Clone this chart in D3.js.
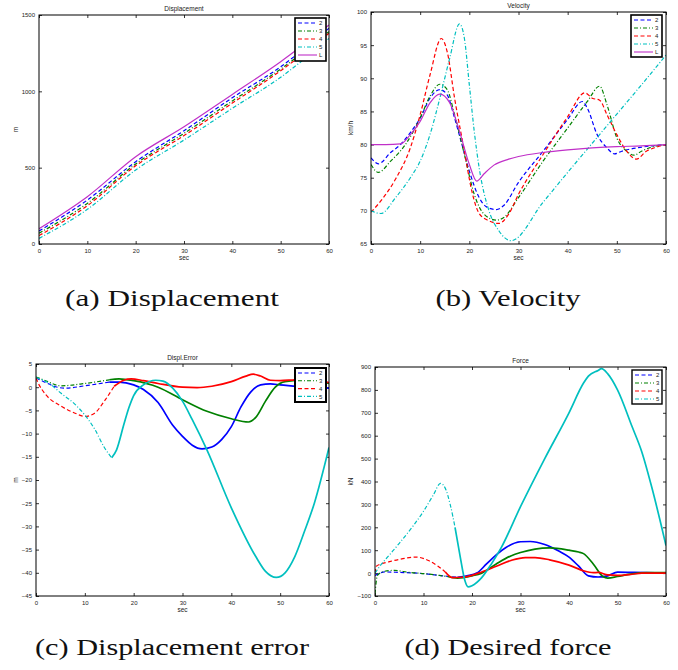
<!DOCTYPE html>
<html lang="en">
  <head>
    <meta charset="UTF-8" />
    <title>Platoon simulation</title>
    <script src="https://cdn.jsdelivr.net/npm/d3@7.6.1/dist/d3.min.js"></script>
    <style>
      body { margin: 0; background: #fff; }
      svg { display: block; }
      .tick text { font-family: 'Liberation Sans', Arial, sans-serif; font-size: 6px; fill: #222; }
      .lbl { font-family: 'Liberation Sans', Arial, sans-serif; font-size: 6.5px; fill: #222; }
      .cap { font-family: 'Liberation Serif', serif; font-size: 23px; fill: #111; }
    </style>
  </head>
  <body>
    <div id="box"></div>
    <script>
      const width = 678;
      const height = 670;

      // legend names
      const names = ['2', '3', '4', '5', 'L'];
      const colors = ['#0000ff', '#008000', '#ff0000', '#00bfbf', '#c030c8'];
      const dashes = ['4,2.5', '4,2,1,2', '4,2.5', '4,2,1,2', null];

      // (a) displacement, m
      const dispT = [0, 10, 20, 30, 40, 50, 60];
      const disp2 = [85, 288, 539, 742, 958, 1161, 1413];
      const disp3 = [70, 266, 524, 725, 937, 1146, 1391];
      const disp4 = [55, 251, 513, 710, 923, 1135, 1380];
      const disp5 = [37, 227, 485, 681, 889, 1092, 1347];
      const dispL = [100, 310, 572, 768, 980, 1194, 1434];

      // (b) velocity, km/h  [sec, value]
      const vel2 = [[0,78],[1.5,77.1],[4,78.8],[6,80],[8,81.8],[10,84],[12,87],[14,88.3],[15.5,87.5],[17,84],[18.5,80],[20,76],[22,72],[23.5,70.6],[25.5,70.2],[27,70.8],[30,74.3],[35,79],[40,83.8],[43,86.5],[44,85.5],[46,81.5],[48,79.5],[49.5,78.6],[51,79],[55,79.6],[60,80]];
      const vel3 = [[0,77],[1.5,75.8],[4,77.5],[7,80],[10,84],[12,87.3],[14,89.1],[15.5,88.3],[17,84.5],[19,78.5],[21,72.5],[23,69.5],[25.5,68.6],[27,69],[30,72],[35,77.5],[40,82.5],[44,86.5],[46.5,88.8],[48,86],[50,81],[52,79],[53.5,78.4],[55,79],[57,79.6],[60,80]];
      const vel4 = [[0,69.8],[2,71.5],[5,74.8],[8,79.5],[10,84.5],[12,90.5],[14.3,96],[15.5,94],[17,87],[19,79],[20.5,73],[22,69.6],[24,68.5],[26,68.1],[28,69.5],[30,72.5],[35,78.5],[40,84.2],[43.5,87.8],[45,87],[46.5,86.7],[48,84.5],[50,81.5],[52,79],[54,77.8],[56,79],[58,79.6],[60,80]];
      const vel5 = [[0,70],[2,69.6],[5,72],[8,75],[10,77.5],[12,81.5],[14,87],[16,93],[18,98.2],[19,96],[20,89],[21,82],[22,76.5],[24,70],[26,67],[28.5,65.5],[35,71.3],[40,75.8],[45,80.2],[50,84.6],[55,89],[60,93.5]];
      const velL = [[0,80],[3,80],[6,80.1],[8,81.5],[10,83.5],[12,86.3],[14,87.6],[16,86.3],[18,82],[20,77],[21.5,74.5],[23,75.6],[25,76.9],[28,77.8],[30,78.2],[35,78.8],[40,79.2],[45,79.5],[50,79.7],[55,79.8],[60,80]];

      // (c) displacement error, m
      const err2 = [[0,2],[2,1],[4,0.1],[6,-0.2],[10,0.3],[15,1.1],[17,1.1],[20,0.5],[22,-0.5],[25,-3.3],[28,-8.2],[30,-10.6],[32,-12.5],[34,-13.3],[36,-12.9],[38,-11.3],[40,-8.5],[42,-4.2],[44,-1],[46,0.5],[48,0.7],[50,0.5],[55,0],[60,-0.2]];
      const err3 = [[0,2.2],[2,1.4],[5,0.3],[10,0.8],[15,1.6],[17,1.8],[20,1.4],[25,0],[30,-2.7],[35,-5.2],[40,-6.8],[43.5,-7.5],[45,-6.5],[47,-3],[49,0],[51,1.2],[55,1.5],[60,0.8]];
      const err4 = [[0,2],[0.5,0.8],[2,-1.6],[5,-4],[8,-5.6],[10,-6.3],[12,-5.6],[14,-3],[16,0.2],[18,1.5],[19.5,1.8],[22,1.4],[25,0.8],[30,0],[33,-0.1],[36,0.2],[40,1.2],[43,2.4],[44.5,2.8],[46,2.4],[48,1.5],[50,1.4],[53,1.6],[56,1.7],[60,1]];
      const err5 = [[0,2.1],[3,0.6],[5,-1.2],[8,-3.7],[10,-6],[12,-9],[14,-13],[15.5,-15.2],[16.5,-13.5],[18,-8],[19,-4.5],[20,-1.8],[22,0.5],[24.5,1.5],[26,1.3],[28,-0.2],[30,-3],[32,-7],[35,-13.5],[40,-26],[45,-36.5],[47,-39.7],[49.2,-41],[51,-40],[53,-36.5],[55,-31],[57,-25],[60,-13]];

      // (d) desired force, kN
      const force2 = [[0,-10],[1,0],[2,5],[5,3],[10,-2],[14,-12],[17,-18],[19,-12],[21,0],[23,40],[25,80],[27,112],[30,137],[32,138],[35,125],[38,95],[40,70],[42,30],[44,-12],[46,-17],[48,-12],[50,4],[53,3],[60,0]];
      const force3 = [[0,-90],[0.5,-10],[2,8],[4,12],[7,3],[10,-2],[15,-15],[17,-22],[20,-12],[22,0],[25,40],[28,75],[30,90],[33,105],[36,110],[40,100],[42,92],[43,85],[45,40],[47,-15],[48,-22],[50,-15],[53,-3],[56,2],[60,2]];
      const force4 = [[0,0],[0.3,30],[1,38],[3,50],[5,60],[8.5,70],[11,55],[13,30],[14.5,5],[16,-20],[18,-18],[20,-10],[22,5],[25,30],[28,55],[31,68],[33,68],[36,58],[40,35],[43,10],[45,2],[46,3],[48,-8],[50,-10],[53,-5],[55,0],[60,0]];
      const force5 = [[0,0],[1,30],[3,80],[5,130],[8,210],[10,270],[12,340],[13.5,392],[14.5,370],[15.5,300],[16.5,200],[17.5,80],[18.5,-30],[19.2,-60],[20,-55],[22,-20],[24,40],[26,110],[30,290],[35,500],[40,700],[43,830],[44,860],[46,885],[46.7,893],[48,870],[50,800],[53,640],[55,530],[57,380],[59,210],[60,120]];

      // time after which the dense samples look solid
      const solidAfterC = [15, 16, 16, 16];
      const solidAfterD = [17, 16, 15, 17];

      const xTicks = d3.range(0, 61, 10);

      const svg = d3.select('#box').append('svg').attr('width', width).attr('height', height);

      function panel(o) {
        const x = d3.scaleLinear().domain([0, 60]).range([o.x0, o.x1]);
        const y = d3.scaleLinear().domain(o.yDomain).range([o.y1, o.y0]);
        const g = svg.append('g');
        const clipId = 'clip' + o.id;
        g.append('clipPath').attr('id', clipId).append('rect')
          .attr('x', o.x0).attr('y', o.y0).attr('width', o.x1 - o.x0).attr('height', o.y1 - o.y0);

        // inward ticks, all four sides
        g.append('g').attr('transform', `translate(0,${o.y1})`)
          .call(d3.axisBottom(x).tickValues(xTicks).tickSizeInner(-3).tickSizeOuter(0).tickPadding(5))
          .call(a => a.select('.domain').remove());
        g.append('g').attr('transform', `translate(0,${o.y0})`)
          .call(d3.axisTop(x).tickValues(xTicks).tickSizeInner(-3).tickSizeOuter(0).tickFormat(''))
          .call(a => a.select('.domain').remove());
        g.append('g').attr('transform', `translate(${o.x0},0)`)
          .call(d3.axisLeft(y).tickValues(o.yTicks).tickFormat(d3.format('d')).tickSizeInner(-3).tickSizeOuter(0).tickPadding(4))
          .call(a => a.select('.domain').remove());
        g.append('g').attr('transform', `translate(${o.x1},0)`)
          .call(d3.axisRight(y).tickValues(o.yTicks).tickSizeInner(-3).tickSizeOuter(0).tickFormat(''))
          .call(a => a.select('.domain').remove());
        g.selectAll('.tick line').attr('stroke', '#000').attr('stroke-width', 0.8);

        const line = d3.line().x(d => x(d[0])).y(d => y(d[1])).curve(d3.curveMonotoneX);
        const plot = g.append('g').attr('clip-path', `url(#${clipId})`);
        o.series.forEach((s, i) => {
          let first = s;
          let rest = [];
          if (o.solidAfter) {
            // last point at or before the split; both parts share it
            const k = d3.bisectRight(s.map(d => d[0]), o.solidAfter[i]) - 1;
            first = s.slice(0, k + 1);
            rest = s.slice(k);
          }
          plot.append('path').attr('d', line(first)).attr('fill', 'none')
            .attr('stroke', colors[i]).attr('stroke-width', 1.2)
            .attr('stroke-dasharray', dashes[i]);
          if (rest.length > 1) {
            plot.append('path').attr('d', line(rest)).attr('fill', 'none')
              .attr('stroke', colors[i]).attr('stroke-width', 1.7);
          }
        });

        g.append('rect').attr('x', o.x0).attr('y', o.y0)
          .attr('width', o.x1 - o.x0).attr('height', o.y1 - o.y0)
          .attr('fill', 'none').attr('stroke', '#000').attr('stroke-width', 1);

        g.append('text').attr('class', 'lbl').attr('x', (o.x0 + o.x1) / 2).attr('y', o.y0 - 4)
          .attr('text-anchor', 'middle').text(o.title);
        g.append('text').attr('class', 'lbl').attr('x', (o.x0 + o.x1) / 2).attr('y', o.y1 + 16)
          .attr('text-anchor', 'middle').text('sec');
        g.append('text').attr('class', 'lbl')
          .attr('transform', `translate(${o.yLabelX},${(o.y0 + o.y1) / 2}) rotate(-90)`)
          .attr('text-anchor', 'middle').text(o.yLabel);

        // legend
        const L = o.legend;
        const n = o.series.length;
        g.append('rect').attr('x', L.x).attr('y', L.y).attr('width', L.w).attr('height', L.h)
          .attr('fill', '#fff').attr('stroke', '#000').attr('stroke-width', L.sw);
        for (let i = 0; i < n; i++) {
          const ry = L.y + 5 + i * L.step;
          g.append('line').attr('x1', L.x + 3).attr('x2', L.x + 22).attr('y1', ry).attr('y2', ry)
            .attr('stroke', colors[i]).attr('stroke-width', 1.1).attr('stroke-dasharray', dashes[i]);
          g.append('text').attr('class', 'lbl').attr('x', L.x + 24).attr('y', ry + 2.2)
            .style('font-size', '6px').text(names[i]);
        }

        svg.append('text').attr('class', 'cap').attr('x', o.capX).attr('y', o.capY)
          .attr('text-anchor', 'middle').attr('textLength', o.capW).attr('lengthAdjust', 'spacingAndGlyphs')
          .text(o.caption);
      }

      panel({
        id: 'a', x0: 39, x1: 329, y0: 15, y1: 244, yDomain: [0, 1500], yTicks: [0, 500, 1000, 1500],
        series: [dispT.map((t, i) => [t, disp2[i]]), dispT.map((t, i) => [t, disp3[i]]),
          dispT.map((t, i) => [t, disp4[i]]), dispT.map((t, i) => [t, disp5[i]]), dispT.map((t, i) => [t, dispL[i]])],
        title: 'Displacement', yLabel: 'm', yLabelX: 18,
        legend: {x: 295, y: 18, w: 31, h: 43, step: 8, sw: 1.6},
        caption: '(a) Displacement', capX: 172, capY: 306, capW: 214
      });
      panel({
        id: 'b', x0: 371, x1: 666, y0: 12, y1: 244, yDomain: [65, 100], yTicks: d3.range(65, 101, 5),
        series: [vel2, vel3, vel4, vel5, velL],
        title: 'Velocity', yLabel: 'km/h', yLabelX: 353,
        legend: {x: 631, y: 15, w: 31, h: 42, step: 8, sw: 1.6},
        caption: '(b) Velocity', capX: 508, capY: 306, capW: 145
      });
      panel({
        id: 'c', x0: 36, x1: 329, y0: 364, y1: 596, yDomain: [-45, 5], yTicks: d3.range(-45, 6, 5),
        series: [err2, err3, err4, err5], solidAfter: solidAfterC,
        title: 'Displ.Error', yLabel: 'm', yLabelX: 18,
        legend: {x: 295, y: 368, w: 31, h: 34, step: 7.8, sw: 2},
        caption: '(c) Displacement error', capX: 172, capY: 655, capW: 274
      });
      panel({
        id: 'd', x0: 375, x1: 666, y0: 367, y1: 596, yDomain: [-100, 900], yTicks: d3.range(-100, 901, 100),
        series: [force2, force3, force4, force5], solidAfter: solidAfterD,
        title: 'Force', yLabel: 'kN', yLabelX: 353,
        legend: {x: 632, y: 370, w: 30, h: 34, step: 8, sw: 1.4},
        caption: '(d) Desired force', capX: 508, capY: 655, capW: 207
      });
    </script>
  </body>
</html>
